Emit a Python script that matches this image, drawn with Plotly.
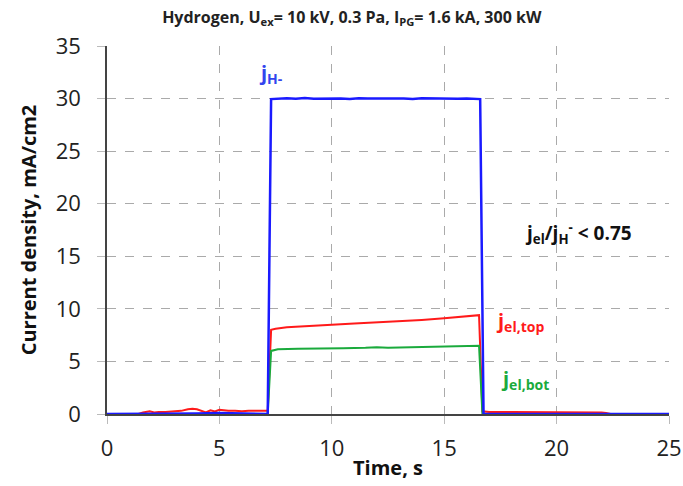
import plotly.graph_objects as go

# Time (s) and current density (mA/cm2)
blue_t = [0, 1, 2, 3, 4, 5, 6, 7, 7.15, 7.3, 7.6, 8.0, 8.4, 8.8, 9.2, 9.6, 10.0, 10.4, 10.8, 11.2,
          11.6, 12.0, 12.4, 12.8, 13.2, 13.6, 14.0, 14.4, 14.8, 15.2, 15.6, 16.0, 16.4, 16.6,
          16.75, 17, 18, 19, 20, 21, 22, 23, 24, 25]
blue_v = [0, 0, 0, 0, 0.05, 0.1, 0.05, 0, 0, 29.95, 30.0, 30.03, 29.98, 30.05, 29.98, 30.0, 30.03,
          30.0, 29.97, 30.03, 30.0, 29.98, 30.03, 30.0, 30.0, 29.97, 30.02, 30.0, 29.96, 30.0,
          29.98, 30.0, 29.97, 29.95, 0, 0, 0, 0, 0, 0, 0, 0, 0, 0]

red_t = [0, 1.4, 1.6, 1.9, 2.1, 2.3, 2.6, 3.0, 3.3, 3.6, 3.8, 4.0, 4.2, 4.4, 4.6, 4.8, 5.0,
         5.2, 5.4, 5.7, 6.0, 6.3, 6.6, 6.9, 7.15, 7.3, 7.5, 8.0, 9.0, 10.0, 11.0, 12.0, 13.0,
         14.0, 15.0, 16.0, 16.55, 16.7, 17.0, 18.0, 19.0, 20.0, 21.0, 22.0, 22.2, 22.4, 25]
red_v = [0, 0, 0.15, 0.25, 0.15, 0.2, 0.2, 0.25, 0.3, 0.45, 0.5, 0.45, 0.3, 0.15, 0.35,
         0.25, 0.4, 0.35, 0.3, 0.3, 0.25, 0.3, 0.3, 0.3, 0.3, 8.0, 8.1, 8.25, 8.4, 8.5, 8.6,
         8.7, 8.8, 8.95, 9.1, 9.25, 9.4, 0.25, 0.2, 0.2, 0.2, 0.2, 0.15, 0.15, 0.1, 0, 0]

green_t = [0, 7.15, 7.3, 7.6, 8.5, 9.5, 10.5, 11.5, 12.0, 12.5, 13.5, 14.5, 15.5, 16.55,
           16.7, 25]
green_v = [0, 0, 6.0, 6.15, 6.2, 6.2, 6.25, 6.3, 6.35, 6.3, 6.35, 6.4, 6.45, 6.5, 0, 0]

x_ticks = [0, 5, 10, 15, 20, 25]
y_ticks = [0, 5, 10, 15, 20, 25, 30, 35]

fig = go.Figure()
fig.add_trace(go.Scatter(x=red_t, y=red_v, mode="lines", line=dict(color="#ff1a1a", width=2)))
fig.add_trace(go.Scatter(x=green_t, y=green_v, mode="lines", line=dict(color="#1aaa3c", width=2)))
fig.add_trace(go.Scatter(x=blue_t, y=blue_v, mode="lines", line=dict(color="#1a1aff", width=2.5)))

font_family = "Open Sans, Liberation Sans, sans-serif"

fig.update_layout(
    width=683, height=486,
    margin=dict(l=107, r=14, t=46, b=72, autoexpand=False),
    plot_bgcolor="white", paper_bgcolor="white",
    showlegend=False,
    font=dict(family=font_family, color="#222"),
    title=dict(text="<b>Hydrogen, U<sub>ex</sub>= 10 kV, 0.3 Pa, I<sub>PG</sub>= 1.6 kA, 300 kW</b>",
               x=0.515, xref="container", xanchor="center", y=0.965, yanchor="middle",
               font=dict(size=16, color="#222")),
)
fig.update_xaxes(range=[0, 25], tickvals=x_ticks, showgrid=True, gridcolor="#aaaaaa",
                 griddash="dash", gridwidth=1, showline=True, linecolor="#444", linewidth=1.5,
                 ticks="outside", ticklen=8, tickcolor="#bbbbbb", zeroline=False, automargin=False,
                 tickfont=dict(size=22, color="#222"), ticklabelstandoff=6,
                 title=dict(text="<b>Time, s</b>", font=dict(size=20, color="#111"), standoff=0))
fig.update_yaxes(range=[0, 35], tickvals=y_ticks, showgrid=True, gridcolor="#aaaaaa",
                 griddash="dash", gridwidth=1, showline=True, linecolor="#444", linewidth=1.5,
                 ticks="outside", ticklen=8, tickcolor="#bbbbbb", zeroline=False, automargin=False,
                 tickfont=dict(size=22, color="#222"), ticklabelstandoff=12,
                 title=dict(text="<b>Current density, mA/cm2</b>", font=dict(size=20, color="#111"),
                            standoff=14))

fig.add_annotation(x=6.67, y=32.4, text="<b>j<sub>H-</sub></b>", showarrow=False,
                   font=dict(size=20, color="#3344ee"), xanchor="left", yanchor="middle")
fig.add_annotation(x=17.2, y=8.8, text="<b>j<sub>el,top</sub></b>", showarrow=False,
                   font=dict(size=20, color="#ff1a1a"), xanchor="left", yanchor="middle")
fig.add_annotation(x=17.45, y=3.3, text="<b>j<sub>el,bot</sub></b>", showarrow=False,
                   font=dict(size=20, color="#1aaa3c"), xanchor="left", yanchor="middle")
fig.add_annotation(x=18.5, y=17.2, text="<b>j<sub>el</sub>/j<sub>H</sub><sup>-</sup> < 0.75</b>",
                   showarrow=False, font=dict(size=19, color="#111"), xanchor="left",
                   yanchor="middle")

fig.write_html("out.html")
